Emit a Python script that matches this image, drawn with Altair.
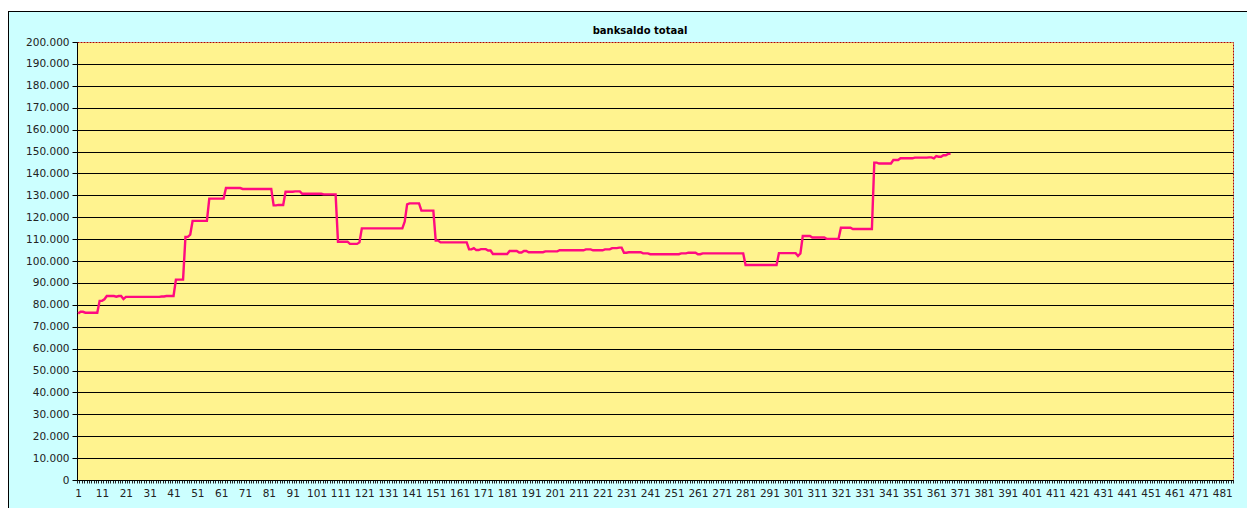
import altair as alt
import pandas as pd

chart_title = "banksaldo totaal"

# start day of each constant stretch and its balance (in thousands)
seg_start = [1, 2, 4, 10, 12, 13, 17, 18, 20, 21, 36, 38, 42, 46, 48, 49, 56, 63, 70,
             83, 85, 88, 92, 95, 104, 110, 115, 119, 120, 138, 139, 140, 145, 151, 153,
             165, 167, 168, 170, 173, 175, 182, 186, 188, 190, 197, 203, 214, 217, 222,
             225, 228, 230, 232, 238, 241, 254, 257, 261, 263, 281, 295, 303, 304, 305,
             309, 315, 321, 326, 335, 337, 343, 346, 352, 358, 360, 361, 362, 364, 366]
seg_value = [76.0, 76.8, 76.4, 81.8, 82.5, 84.0, 83.7, 84.0, 82.6, 83.6, 83.8, 84.0, 91.5,
             111.0, 112.0, 118.3, 128.5, 133.3, 132.9,
             125.4, 125.6, 131.6, 131.8, 130.7, 130.4, 108.8, 107.8, 108.5, 114.9, 118.0,
             125.9, 126.3, 123.0, 109.3, 108.5,
             105.3, 105.9, 105.0, 105.4, 104.8, 103.2, 104.6, 103.9, 104.6, 104.0, 104.4,
             104.9, 105.3, 104.9, 105.3,
             105.9, 106.1, 103.8, 104.0, 103.5, 103.1, 103.5, 103.8, 103.1, 103.5, 98.2,
             103.6, 102.3, 103.4, 111.4,
             110.7, 110.1, 115.2, 114.6, 144.9, 144.5, 146.1, 146.9, 147.2, 147.3, 146.9,
             147.9, 147.6, 148.3, 148.9]
last_day = 367
n_categories = 485
y_ticks = list(range(0, 200001, 10000))
x_boundaries = [i + 0.5 for i in range(0, n_categories + 1)]

days, values = [], []
for i, s in enumerate(seg_start):
    e = seg_start[i + 1] if i + 1 < len(seg_start) else last_day + 1
    for d in range(s, e):
        days.append(d)
        values.append(seg_value[i] * 1000)

df = pd.DataFrame({"dag": days, "saldo": values})
one = pd.DataFrame({"k": [0]})
title_df = pd.DataFrame({"t": [chart_title]})

W, H = 1156, 438
PL, PT, PR, PB = 69, 34, 14, 28
FONT = "DejaVu Sans"

x_scale = alt.Scale(domain=[0.5, n_categories + 0.5], nice=False, zero=False)
y_scale = alt.Scale(domain=[0, 200000], nice=False)

line = alt.Chart(df).mark_line(color="#FF0A80", strokeWidth=2.4).encode(
    x=alt.X("dag:Q", scale=x_scale, axis=alt.Axis(
        values=x_boundaries,
        labelExpr="(datum.value - 0.5) % 10 == 0 && datum.value < 485 ? format(datum.value + 0.5, 'd') : ''",
        labelOffset=1.19, labelOverlap=False, labelFlush=False,
        ticks=True, tickSize=3, tickColor="#222", grid=False,
        domainColor="black", labelPadding=5, labelFontSize=10.5, labelFont=FONT,
        labelColor="#222", title=None)),
    y=alt.Y("saldo:Q", scale=y_scale, axis=alt.Axis(
        values=y_ticks,
        labelExpr="replace(format(datum.value, ','), ',', '.')",
        grid=True,
        gridColor={"condition": {"test": "datum.value == 200000", "value": "transparent"}, "value": "black"},
        gridWidth=1, tickSize=5, tickColor="black", domainColor="black",
        labelPadding=3, labelFontSize=10.5, labelFont=FONT, labelColor="#222",
        title=None)),
)

white_strip = alt.Chart(one).mark_rect(color="white").encode(
    x=alt.value(-PL), x2=alt.value(W + PR), y=alt.value(-PT), y2=alt.value(-PT + 3))
top_frame = alt.Chart(one).mark_rule(color="black", strokeWidth=1).encode(
    x=alt.value(-PL), x2=alt.value(W + PR), y=alt.value(-PT + 3.5))
left_frame = alt.Chart(one).mark_rule(color="black", strokeWidth=1).encode(
    x=alt.value(-PL + 0.5), y=alt.value(-PT + 3.5), y2=alt.value(H + PB))
title_mark = alt.Chart(title_df).mark_text(
    font=FONT, fontSize=10, fontWeight="bold", color="black",
    align="center", baseline="middle").encode(
    text="t:N", x=alt.value(W / 2 - 15), y=alt.value(-11))

chart = alt.layer(line, white_strip, top_frame, left_frame, title_mark).properties(
    width=W, height=H,
    padding={"left": PL, "top": PT, "right": PR, "bottom": PB},
    autosize=alt.AutoSizeParams(type="none"),
).configure(background="#CCFFFF").configure_view(
    fill="#FFF38F", stroke="#B00000", strokeDash=[2, 1], strokeWidth=1
)

chart.save("out.html", embed_options={"renderer": "svg", "actions": False})
